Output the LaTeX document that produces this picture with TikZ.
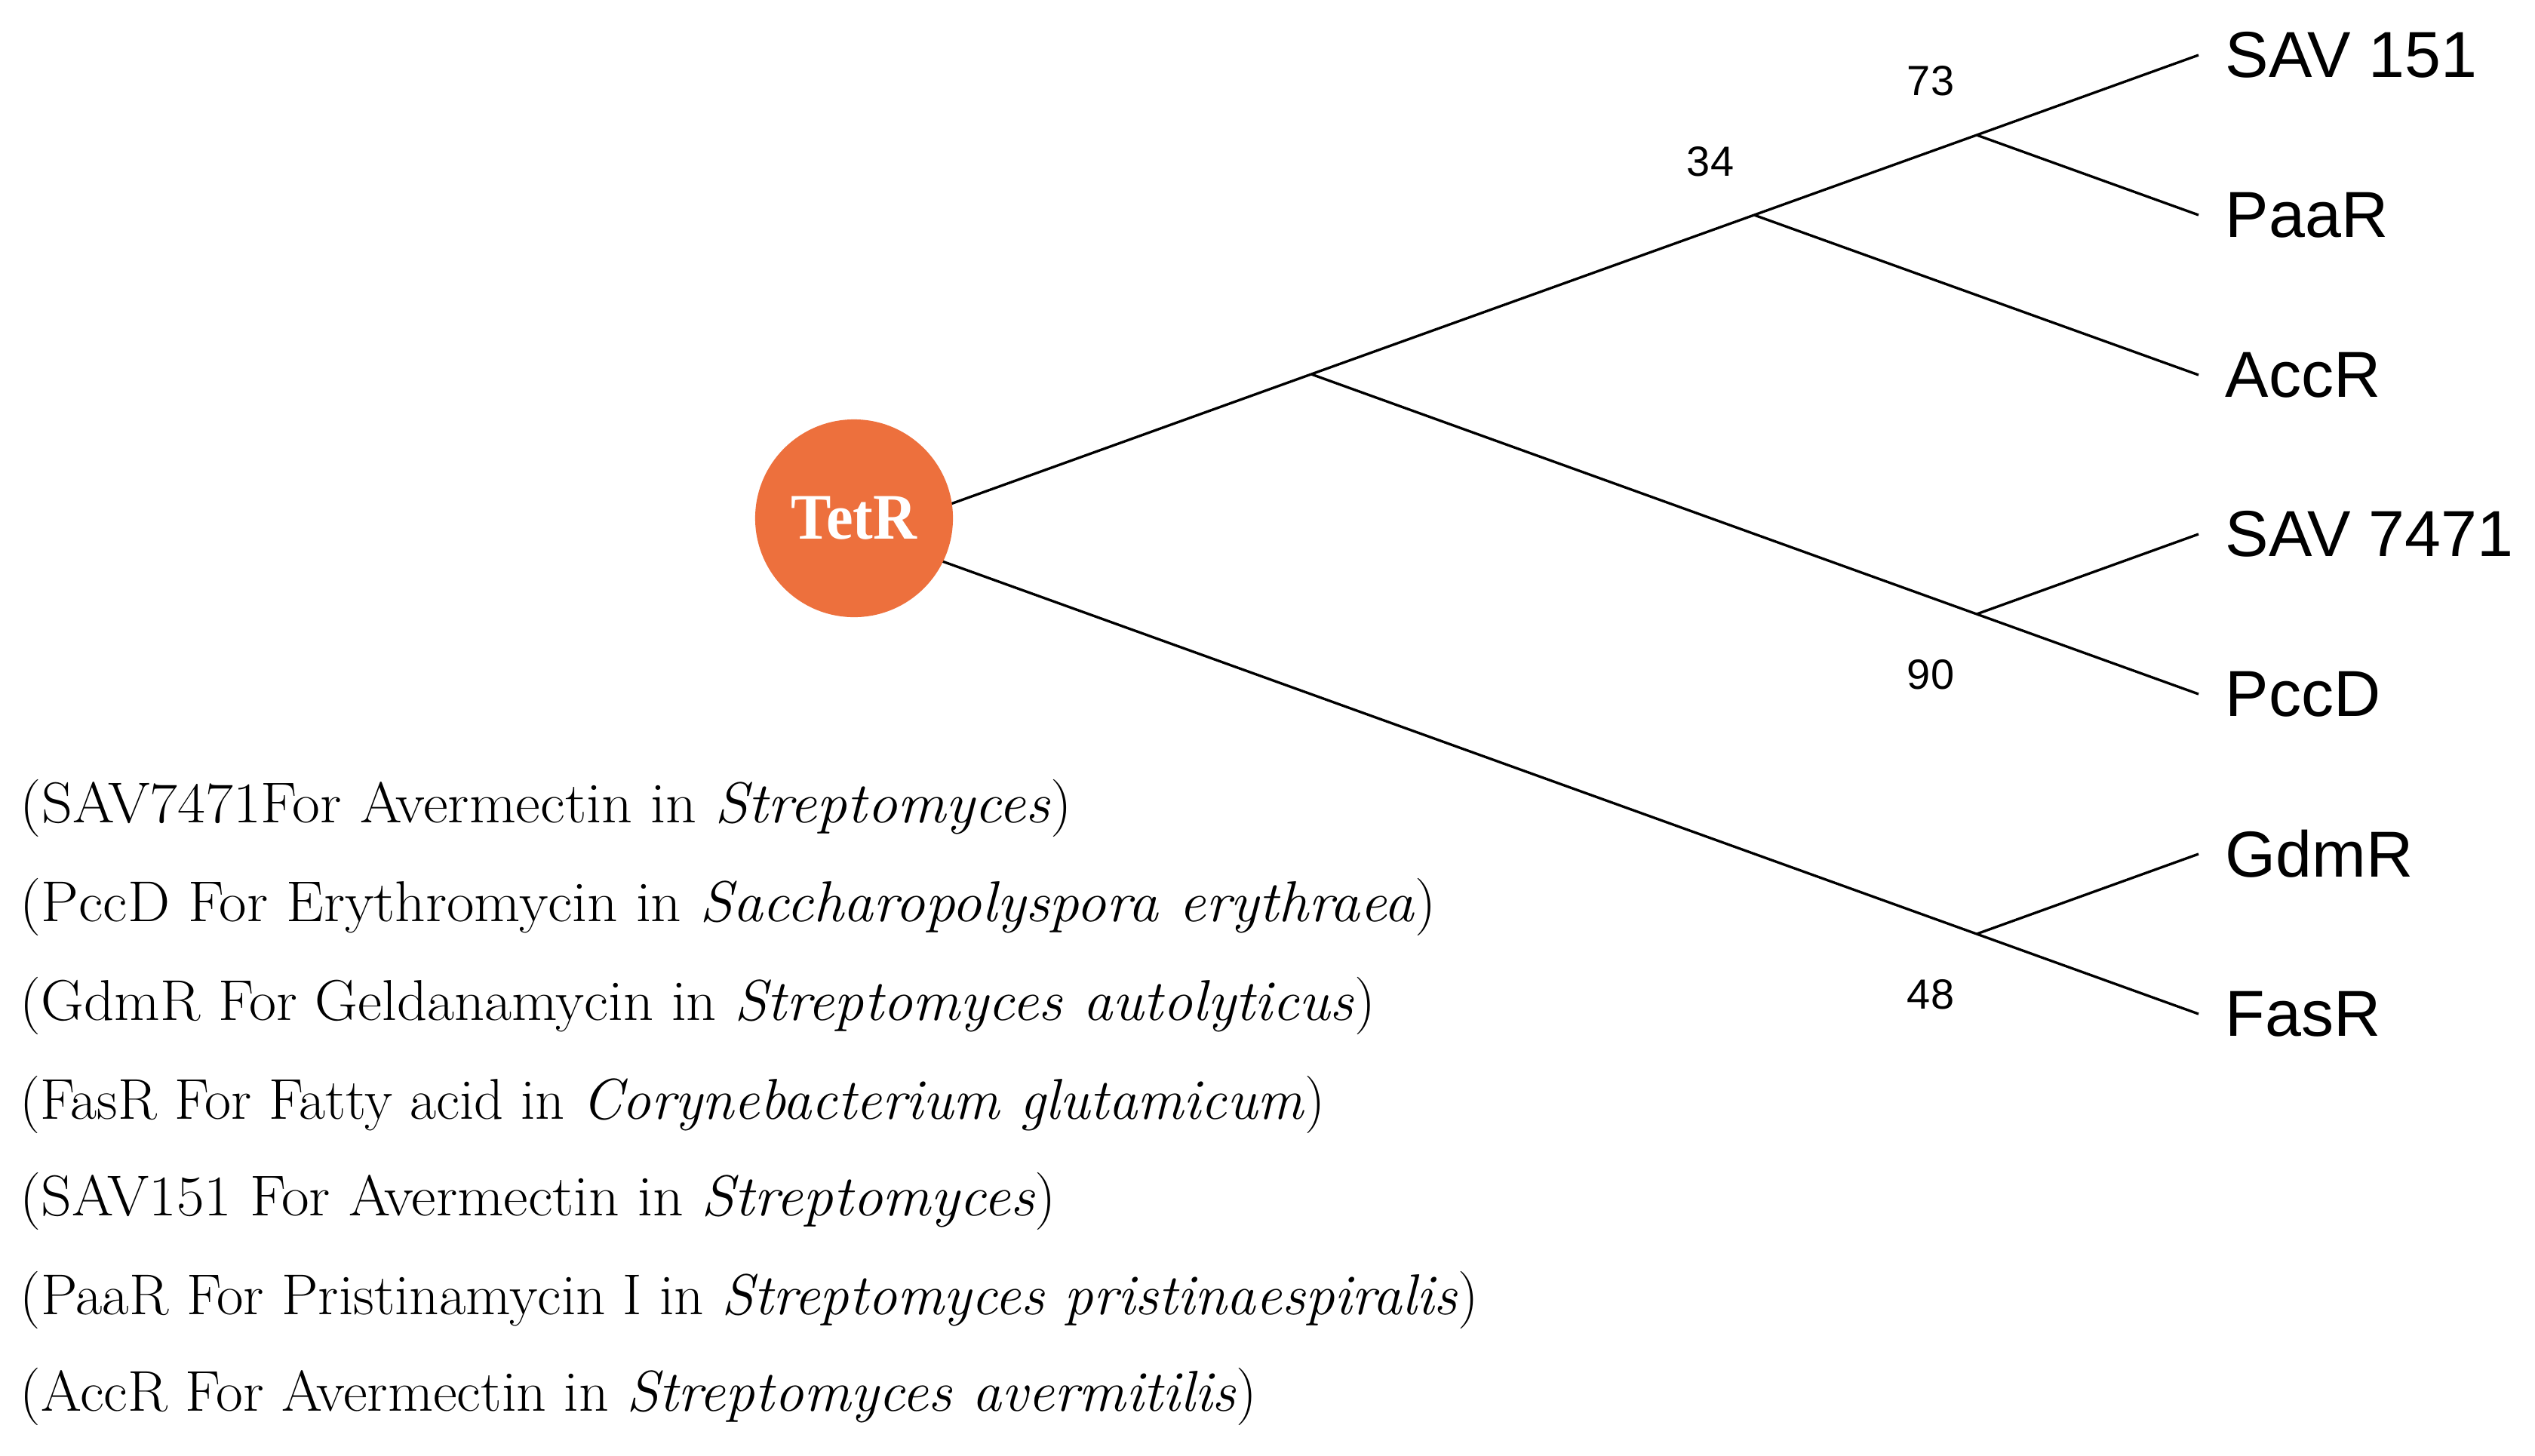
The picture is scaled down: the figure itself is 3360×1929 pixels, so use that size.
\documentclass[tikz,border=0pt]{standalone}
\usepackage{fontspec}
\newfontfamily\leaffont{Liberation Sans}
\newfontfamily\tetrfont{Liberation Serif}
\definecolor{tetrcol}{RGB}{237,112,61}
\begin{document}
\begin{tikzpicture}[x=0.01cm,y=-0.01cm,
  branch/.style={line width=0.95pt, black},
  leaf/.style={anchor=west, inner sep=0pt, font=\leaffont\fontsize{24.5pt}{28pt}\selectfont},
  boot/.style={inner sep=0pt, font=\leaffont\fontsize{15.9pt}{18pt}\selectfont},
  legend/.style={anchor=west, inner sep=0pt, font=\fontsize{21.7pt}{26pt}\selectfont},
  rootnode/.style={circle, fill=tetrcol, minimum size=2.62cm, inner sep=0pt, text=white,
    font=\tetrfont\bfseries\fontsize{24.5pt}{28pt}\selectfont}]
\fill[white] (0,0) rectangle (3360,1929);
% tree coordinates
\coordinate (root) at (1149,708);
\coordinate (A) at (1738,496);
\coordinate (B) at (2325,285);
\coordinate (C) at (2620,179);
\coordinate (D) at (2620,814);
\coordinate (E) at (2620,1238);
\coordinate (l1) at (2914,73);
\coordinate (l2) at (2914,285);
\coordinate (l3) at (2914,497);
\coordinate (l4) at (2914,708);
\coordinate (l5) at (2914,920);
\coordinate (l6) at (2914,1132);
\coordinate (l7) at (2914,1344);
% branches
\draw[branch] (root) -- (A);
\draw[branch] (A) -- (B);
\draw[branch] (B) -- (C);
\draw[branch] (C) -- (l1);
\draw[branch] (C) -- (l2);
\draw[branch] (B) -- (l3);
\draw[branch] (A) -- (D);
\draw[branch] (D) -- (l4);
\draw[branch] (D) -- (l5);
\draw[branch] (root) -- (E);
\draw[branch] (E) -- (l6);
\draw[branch] (E) -- (l7);
% root node
\node[rootnode] (tetr) at (1132,687) {\scalebox{0.93}[1]{TetR}};
% leaves
\node[leaf] (sav151) at (2949,73) {SAV 151};
\node[leaf] (paar) at (2949,285) {PaaR};
\node[leaf] (accr) at (2949,497) {AccR};
\node[leaf] (sav7471) at (2949,708) {SAV 7471};
\node[leaf] (pccd) at (2949,920) {PccD};
\node[leaf] (gdmr) at (2949,1132) {GdmR};
\node[leaf] (fasr) at (2949,1344) {FasR};
% bootstrap values
\node[boot] (b73) at (2559,107) {73};
\node[boot] (b34) at (2267,214) {34};
\node[boot] (b90) at (2559,894) {90};
\node[boot] (b48) at (2559,1318) {48};
% legend
\node[legend] (g1) at (26,1071) {\scalebox{1.05}[1]{(SAV7471For Avermectin in \textit{Streptomyces})}};
\node[legend] (g2) at (26,1202) {\scalebox{1.04}[1]{(PccD For Erythromycin in \textit{Saccharopolyspora erythraea})}};
\node[legend] (g3) at (26,1333) {\scalebox{1.028}[1]{(GdmR For Geldanamycin in \textit{Streptomyces autolyticus})}};
\node[legend] (g4) at (26,1464) {(FasR For Fatty acid in \textit{Corynebacterium glutamicum})};
\node[legend] (g5) at (26,1592) {\scalebox{1.044}[1]{(SAV151 For Avermectin in \textit{Streptomyces})}};
\node[legend] (g6) at (26,1723) {\scalebox{1.011}[1]{(PaaR For Pristinamycin I in \textit{Streptomyces pristinaespiralis})}};
\node[legend] (g7) at (26,1851) {\scalebox{1.02}[1]{(AccR For Avermectin in \textit{Streptomyces avermitilis})}};
\end{tikzpicture}
\end{document}
